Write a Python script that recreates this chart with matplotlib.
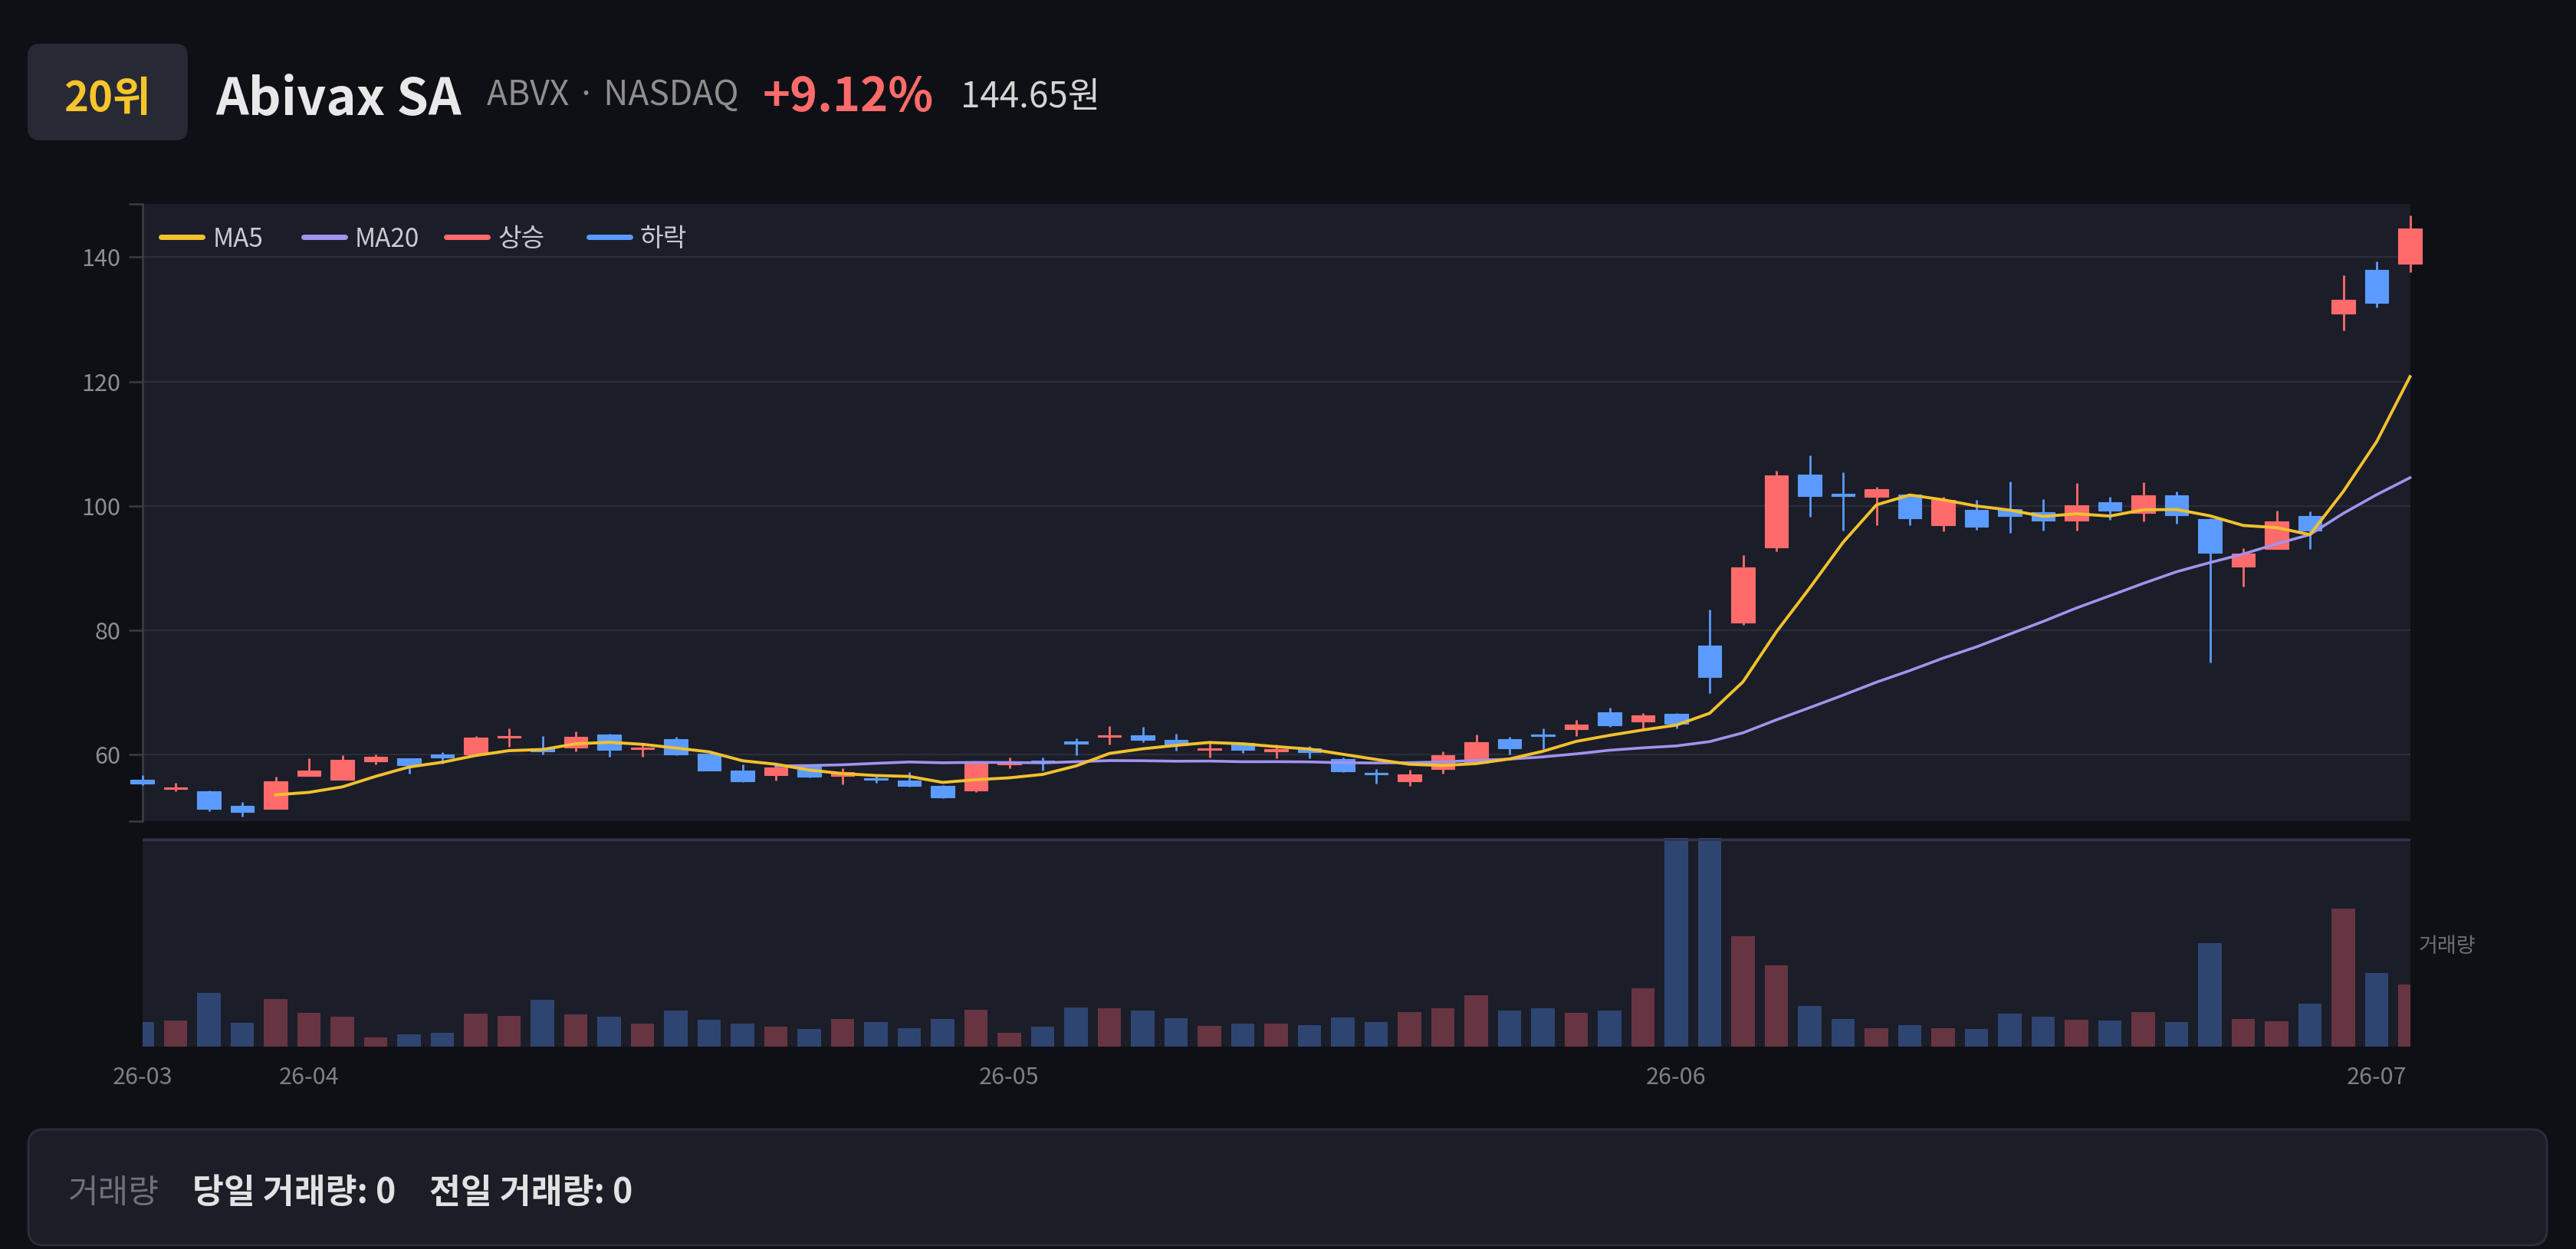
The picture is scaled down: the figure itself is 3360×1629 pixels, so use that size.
import matplotlib
matplotlib.use('Agg')
import matplotlib.pyplot as plt
import numpy as np
import pandas as pd
from matplotlib.patches import FancyBboxPatch
from matplotlib.lines import Line2D
from matplotlib.transforms import IdentityTransform

plt.rcParams['font.family'] = ['Noto Sans CJK KR', 'DejaVu Sans']

# daily candles, 26-03 .. 26-07
opens = [55.93, 54.46, 54.09, 51.75, 51.25, 56.63, 56.02, 59.01, 59.47, 60.08, 60.0, 62.75,
         61.0, 61.11, 63.24, 60.9, 62.55, 60.12, 57.45, 56.71, 58.07, 56.55, 56.18, 55.85,
         54.95, 54.25, 58.48, 59.1, 62.05, 62.87, 63.2, 62.34, 60.74, 61.85, 60.53, 61.0,
         59.36, 57.15, 55.79, 57.72, 58.71, 62.48, 63.26, 64.09, 66.8, 65.4, 66.55,
         77.5, 81.3, 93.39, 105.08, 101.8, 101.47, 101.87, 96.86, 99.33, 99.53, 99.0, 97.67,
         100.6, 98.87, 101.67, 97.93, 90.19, 93.06, 98.4, 130.92, 138.0, 138.87]
closes = [55.4, 54.74, 51.25, 50.76, 55.69, 57.41, 59.14, 59.71, 58.28, 59.51, 62.83, 63.04,
          60.6, 62.87, 60.74, 61.19, 60.08, 57.49, 55.73, 57.95, 56.51, 57.25, 55.93, 54.99,
          53.18, 58.64, 58.77, 58.69, 61.81, 63.2, 62.38, 61.52, 61.03, 60.74, 60.9, 60.46,
          57.31, 56.86, 56.86, 59.94, 61.99, 61.05, 63.02, 64.83, 64.78, 66.3, 64.95,
          72.56, 90.12, 104.88, 101.6, 101.6, 102.67, 98.07, 101.0, 96.6, 98.33, 97.6, 100.14,
          99.2, 101.67, 98.53, 92.52, 92.39, 97.46, 96.06, 133.19, 132.59, 144.65]
highs = [56.75, 55.48, 54.25, 52.4, 56.47, 59.43, 59.88, 60.0, 59.47, 60.41, 63.0, 64.23,
         63.0, 63.74, 63.37, 61.68, 62.87, 60.12, 58.48, 58.07, 58.19, 57.78, 56.76, 57.21,
         55.11, 58.89, 59.55, 59.55, 62.67, 64.6, 64.44, 63.33, 62.18, 61.85, 61.72, 61.47,
         59.53, 57.68, 57.6, 60.55, 63.22, 62.85, 64.21, 65.65, 67.54, 66.76, 66.67,
         83.37, 92.12, 105.68, 108.15, 105.41, 103.07, 101.9, 101.47, 100.94, 103.94, 101.07, 103.68,
         101.47, 103.81, 102.27, 98.0, 93.19, 99.27, 99.07, 137.07, 139.34, 146.68]
lows = [55.1, 54.13, 51.0, 50.1, 51.25, 56.63, 56.02, 58.48, 56.92, 58.56, 60.0, 61.27,
        60.08, 60.53, 59.71, 59.71, 59.92, 57.41, 55.6, 55.89, 56.34, 55.28, 55.52, 54.87,
        53.02, 54.05, 57.82, 57.41, 59.88, 61.72, 62.05, 60.62, 59.59, 60.29, 59.47, 59.4,
        57.23, 55.42, 54.97, 57.02, 58.7, 60.06, 60.88, 63.02, 64.53, 64.25, 64.2,
        69.88, 80.84, 92.66, 98.27, 96.06, 96.86, 96.86, 95.93, 96.2, 95.73, 96.06, 96.06,
        97.8, 97.53, 97.13, 74.83, 87.05, 93.06, 93.06, 128.18, 131.86, 137.6]
# volume, relative to panel height (panel top = 100)
volumes = [11.6, 12.6, 25.9, 11.3, 22.9, 16.2, 14.3, 4.4, 5.9, 6.5, 15.7, 14.8,
           22.3, 15.5, 14.5, 11.1, 17.4, 12.8, 11.1, 9.7, 8.4, 13.3, 11.7, 8.9,
           13.2, 17.8, 6.7, 9.6, 18.7, 18.5, 17.4, 13.6, 10.1, 10.9, 10.9, 10.4,
           14.1, 11.8, 16.4, 18.4, 24.7, 17.4, 18.4, 16.2, 17.3, 28.0, 140.0,
           135.0, 52.9, 38.8, 19.4, 13.4, 8.8, 10.2, 8.8, 8.5, 15.7, 14.4, 12.9,
           12.6, 16.6, 11.6, 49.7, 13.2, 12.3, 20.5, 66.1, 35.4, 29.6]

date_ticks = [0, 5, 26, 46, 67]
date_labels = ['26-03', '26-04', '26-05', '26-06', '26-07']
price_ticks = [60, 80, 100, 120, 140]

BG = '#0f1015'
PANEL = '#1b1d28'
UP = '#ff6b6b'
DOWN = '#5b9bff'
MA5_C = '#f2c12e'
MA20_C = '#a193ee'

W, H = 3360, 1629
fig = plt.figure(figsize=(W / 100, H / 100), dpi=100, facecolor=BG)


def fx(x):
    return x / W


def fy(y):
    return 1 - y / H


px = IdentityTransform()

# header
fig.add_artist(FancyBboxPatch((36, H - 183), 209, 126, boxstyle='round,pad=0,rounding_size=16',
                              transform=px, facecolor='#272a35', edgecolor='none'))
fig.text(fx(140), fy(145), '20위', color='#f7c52a', fontsize=39, fontweight='bold',
         ha='center', va='baseline')
fig.text(fx(281), fy(150), 'Abivax SA', color='#e8e8e8', fontsize=48, fontweight='bold',
         ha='left', va='baseline')
fig.text(fx(635), fy(137), 'ABVX · NASDAQ', color='#8e8e8e', fontsize=32, ha='left', va='baseline')
fig.text(fx(995), fy(145), '+9.12%', color=UP, fontsize=44, fontweight='bold', ha='left', va='baseline')
fig.text(fx(1253), fy(140), '144.65원', color='#d4d4d4', fontsize=33, ha='left', va='baseline')

# price panel
ax = fig.add_axes([fx(185.6), fy(1071.3), fx(3143.5 - 185.6), (1071.3 - 266.3) / H])
ax.set_facecolor(PANEL)
n = len(closes)
idx = np.arange(n)
o = np.array(opens)
c = np.array(closes)
up = c >= o
colors = np.where(up, UP, DOWN)

for v in price_ticks:
    ax.axhline(v, color='#2b2e39', lw=1.6, zorder=1)

ax.vlines(idx, lows, highs, colors=colors, lw=2.0, zorder=3, clip_on=False)
body_h = np.maximum(np.abs(c - o), 0.3)
ax.bar(idx, body_h, bottom=np.minimum(o, c), width=0.7, color=colors, edgecolor=colors,
       lw=0.8, zorder=4, clip_on=False)

s = pd.Series(closes)
ma5 = s.rolling(5).mean()
ma20 = s.rolling(20).mean()
ax.plot(idx, ma20, color=MA20_C, lw=2.6, zorder=5, clip_on=False)
ax.plot(idx, ma5, color=MA5_C, lw=2.8, zorder=6, clip_on=False)

ax.set_xlim(0, n - 1)
ax.set_ylim(49.3, 148.5)
ax.set_yticks([49.3] + price_ticks + [148.5], labels=[''] + [str(t) for t in price_ticks] + [''])
ax.set_xticks([])
ax.tick_params(axis='y', colors='#3a3c46', labelcolor='#8a8d96', labelsize=22,
               length=12.7, width=1.8, pad=7.6)
for sp in ['top', 'right', 'bottom']:
    ax.spines[sp].set_visible(False)
ax.spines['left'].set_color('#3a3c46')
ax.spines['left'].set_linewidth(1.8)

# legend
legend_items = [('MA5', MA5_C, 206.6, 277.5), ('MA20', MA20_C, 393, 462.7),
                ('상승', UP, 579, 649), ('하락', DOWN, 765, 834.5)]
for name, col, x0, tx in legend_items:
    fig.add_artist(Line2D([x0 + 3, x0 + 57], [H - 308.5, H - 308.5], transform=px, color=col,
                          lw=5, solid_capstyle='round'))
    fig.text(fx(tx), fy(321.5), name, color='#c9cbd1', fontsize=24, ha='left', va='baseline')

# volume panel
axv = fig.add_axes([fx(185.6), fy(1365), fx(3143.5 - 185.6), (1365 - 1093) / H])
axv.set_facecolor(PANEL)
vcolors = np.where(up, '#663541', '#2f4571')
axv.bar(idx, volumes, width=0.7, color=vcolors, zorder=2)
axv.axhline(99.4, color='#30354c', lw=2.2, zorder=3)
axv.set_xlim(0, n - 1)
axv.set_ylim(0, 100)
axv.set_yticks([])
axv.set_xticks(date_ticks, labels=date_labels)
axv.tick_params(axis='x', length=0, pad=18, labelsize=22, labelcolor='#7c7f88')
for sp in axv.spines.values():
    sp.set_visible(False)
fig.text(fx(3155), fy(1242), '거래량', color='#6b6e78', fontsize=19.5, ha='left', va='baseline')

# bottom info box
fig.add_artist(FancyBboxPatch((37, H - 1624), 3285, 151, boxstyle='round,pad=0,rounding_size=20',
                              transform=px, facecolor='#1b1d27', edgecolor='#2c2f3a', lw=2))
fig.text(fx(89), fy(1569), '거래량', color='#6f7079', fontsize=31, ha='left', va='baseline')
fig.text(fx(251), fy(1569), '당일 거래량: 0', color='#e2e2e2', fontsize=32, fontweight='bold',
         ha='left', va='baseline')
fig.text(fx(560), fy(1569), '전일 거래량: 0', color='#e2e2e2', fontsize=32, fontweight='bold',
         ha='left', va='baseline')

fig.savefig('out.png', dpi=100, facecolor=BG)
